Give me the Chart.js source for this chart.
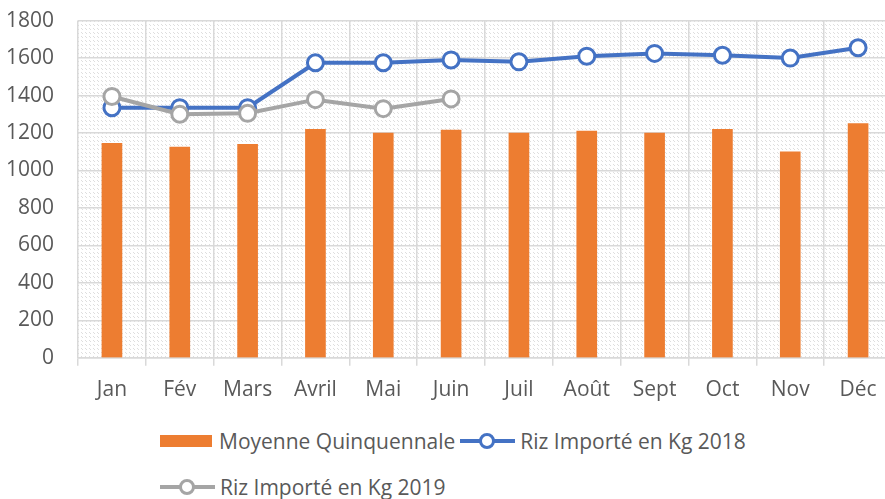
<!DOCTYPE html>
<html>
    <head>
        <meta charset="utf-8">
        <script src="https://cdn.jsdelivr.net/npm/chart.js@4.4.0/dist/chart.umd.min.js"></script>
        <title>Riz importé</title>
        <style>
            body{margin:0;background:#fff;}
            #wrap{position:relative;width:885px;height:499px;overflow:hidden;font-family:"Open Sans",sans-serif;color:#595959;}
            #box{position:absolute;left:-23px;top:-16px;width:926px;height:431px;}
            .row{position:absolute;left:160px;display:flex;align-items:center;font-size:21px;white-space:nowrap;}
            .sw{display:inline-block;width:52px;height:12px;margin-right:7px;}
            .ln{position:relative;display:inline-block;width:55px;height:18px;margin-right:5px;}
            .ln i{position:absolute;left:0;right:0;top:7px;height:4px;}
            .ln b{position:absolute;left:19px;top:1px;width:10px;height:10px;border-radius:50%;border:3px solid;background:#fff;}
        </style>
    </head>
    <body>
        <div id="wrap">
            <div id="box"><canvas id="myChar"></canvas></div>
            <div class="row" id="leg1" style="top:427px"></div>
            <div class="row" id="leg2" style="top:473px"></div>
        </div>
        <script>
            const months=['Jan','Fév','Mars','Avril','Mai','Juin','Juil','Août','Sept','Oct','Nov','Déc'];
            const moyenne=[1145,1125,1140,1220,1200,1215,1200,1210,1200,1220,1100,1250];
            const riz2018=[1335,1335,1335,1575,1575,1590,1580,1610,1625,1615,1600,1655];
            const riz2019=[1395,1300,1305,1378,1330,1382];
            const names=['Moyenne Quinquennale','Riz Importé en Kg 2018','Riz Importé en Kg 2019'];
            const colors=['#ED7D31','#4472C4','#A5A5A5'];

            // hatch pattern behind the plot
            const pc=document.createElement('canvas');
            pc.width=8;pc.height=8;
            const px=pc.getContext('2d');
            px.fillStyle='#fff';px.fillRect(0,0,8,8);
            px.fillStyle='#dedede';
            for(let x=0;x<8;x++){
                for(let y=0;y<8;y++){
                    if((x-y+8)%4===0 && x%4<2) px.fillRect(x,y,1,1);
                }
            }
            const hatch={
                id:'hatch',
                beforeDraw(chart){
                    const a=chart.chartArea,c=chart.ctx;
                    c.save();
                    c.fillStyle=c.createPattern(pc,'repeat');
                    c.fillRect(a.left,a.top,a.right-a.left,a.bottom-a.top);
                    c.restore();
                }
            };

            const ctx=document.getElementById('myChar').getContext('2d');
            new Chart(ctx,{
                type:'bar',
                data:{
                    labels:months,
                    datasets:[
                        {type:'line',label:names[2],data:riz2019,borderColor:colors[2],borderWidth:4,
                         pointRadius:8,pointBorderWidth:3,pointBackgroundColor:'#fff',pointBorderColor:colors[2],order:1},
                        {type:'line',label:names[1],data:riz2018,borderColor:colors[1],borderWidth:4,
                         pointRadius:8,pointBorderWidth:3,pointBackgroundColor:'#fff',pointBorderColor:colors[1],order:2},
                        {label:names[0],data:moyenne,backgroundColor:colors[0],barThickness:20,order:3}
                    ]
                },
                options:{
                    responsive:true,
                    maintainAspectRatio:false,
                    animation:false,
                    layout:{padding:{left:5,top:8,right:0,bottom:0}},
                    plugins:{legend:{display:false},tooltip:{enabled:false}},
                    scales:{
                        x:{
                            grid:{color:'#d9d9d9',lineWidth:1.5,tickLength:8,offset:true},
                            border:{color:'#d9d9d9',width:1.5},
                            ticks:{color:'#595959',font:{family:'Open Sans',size:21},padding:12,maxRotation:0}
                        },
                        y:{
                            min:0,max:1800,
                            grid:{color:'#d9d9d9',lineWidth:1.5,drawTicks:false},
                            border:{display:false},
                            ticks:{stepSize:200,color:'#595959',font:{family:'Open Sans',size:21},padding:24,
                                callback:v=>String(v)}
                        }
                    }
                },
                plugins:[hatch]
            });

            // legend as html
            function item(i){
                if(i===0) return '<span class="sw" style="background:'+colors[0]+'"></span><span style="margin-right:5px">'+names[0]+'</span>';
                return '<span class="ln"><i style="background:'+colors[i]+'"></i><b style="border-color:'+colors[i]+'"></b></span><span>'+names[i]+'</span>';
            }
            document.getElementById('leg1').innerHTML=item(0)+item(1);
            document.getElementById('leg2').innerHTML=item(2);
        </script>
    </body>
</html>
